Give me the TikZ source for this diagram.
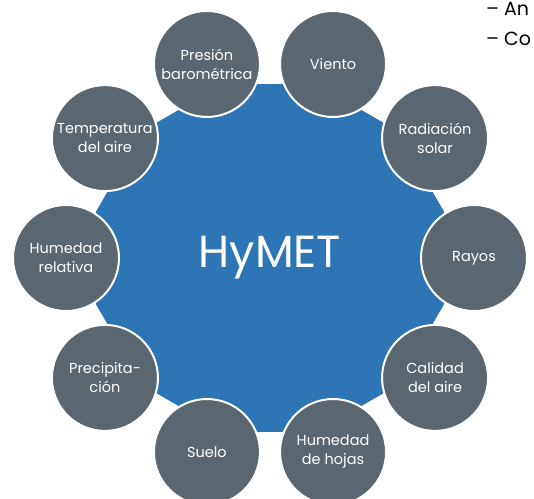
\documentclass[tikz,border=0pt]{standalone}
\usepackage{fontspec}
\setmainfont{Poppins}
\usetikzlibrary{shapes.geometric}

\definecolor{hyblue}{HTML}{2E75B6}
\definecolor{hygray}{HTML}{5A6670}

\tikzset{
  sensor/.style={circle, fill=hygray, draw=white, line width=2bp,
    minimum size=106bp, inner sep=0pt, text=white, align=center,
    font=\fontsize{14.5bp}{19bp}\selectfont},
  hub/.style={regular polygon, regular polygon sides=12, minimum size=360bp,
    inner sep=0pt, fill=hyblue, text=white, font=\fontsize{45bp}{50bp}\selectfont},
  bullet/.style={anchor=base west, inner sep=0pt, font=\fontsize{19bp}{22bp}\selectfont},
}

\begin{document}
\begin{tikzpicture}[x=1bp,y=1bp]
  \useasboundingbox (-270,-241) rectangle (264,258);

  \node[hub] (hymet) at (0,0) {HyMET};

  \node[sensor] (rayos)    at (0:204)   {Rayos};
  \node[sensor] (radiacion) at (36:204) {Radiación\\solar};
  \node[sensor] (viento)   at (72:204)  {Viento};
  \node[sensor] (presion)  at (108:204) {Presión\\barométrica};
  \node[sensor] (temp)     at (144:204) {Temperatura\\del aire};
  \node[sensor] (humrel)   at (180:204) {Humedad\\relativa};
  \node[sensor] (precip)   at (216:204) {Precipita-\\ción};
  \node[sensor] (suelo)    at (252:204) {Suelo};
  \node[sensor] (humhoja)  at (288:204) {Humedad\\de hojas};
  \node[sensor] (calidad)  at (324:204) {Calidad\\del aire};

  % lista cortada en el borde
  \node[bullet] (an) at (216,242) {– An};
  \node[bullet] (co) at (216,212) {– Co};
\end{tikzpicture}
\end{document}
